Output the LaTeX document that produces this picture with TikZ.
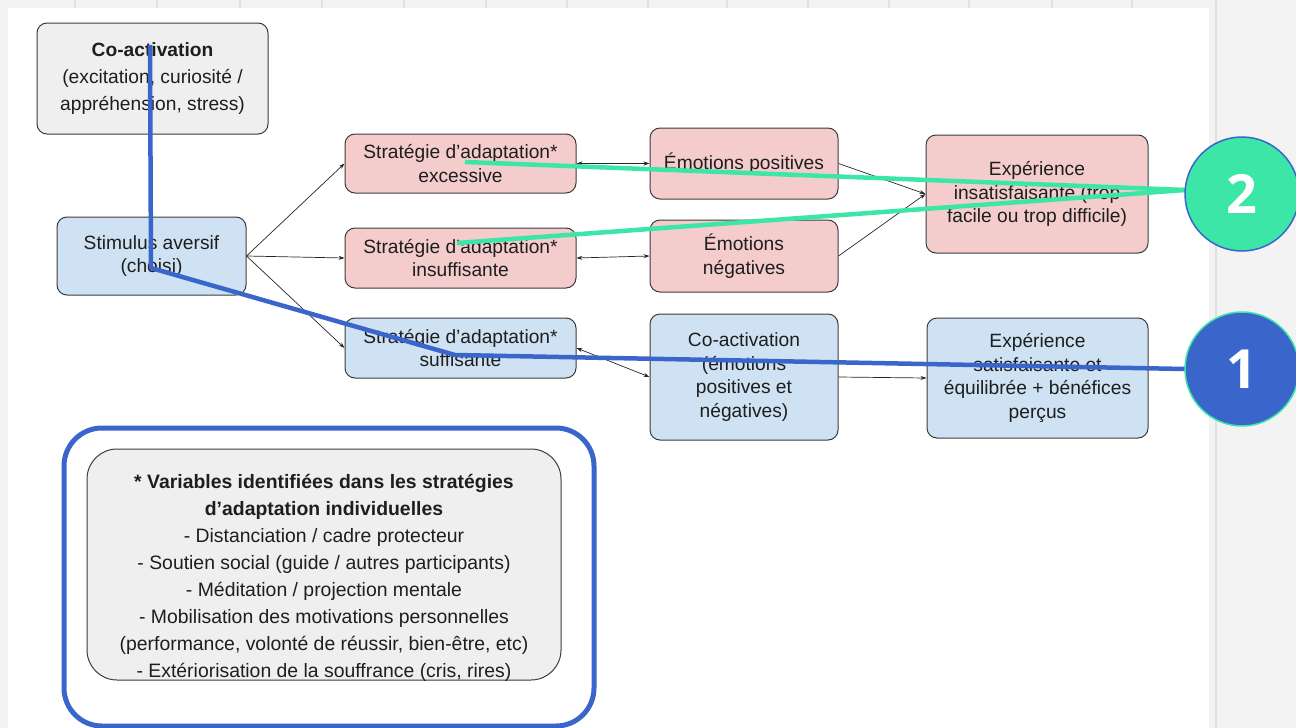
\documentclass[tikz,border=0pt]{standalone}
\usepackage{fontspec}
\setmainfont{Liberation Sans}
\newfontfamily\numfont{Open Sans}
\usetikzlibrary{arrows.meta}
\definecolor{bggray}{HTML}{F3F3F3}
\definecolor{rulegray}{HTML}{E0E0E0}
\definecolor{boxgray}{HTML}{EFEFEF}
\definecolor{boxblue}{HTML}{CFE2F3}
\definecolor{boxpink}{HTML}{F4CCCC}
\definecolor{annblue}{HTML}{3A66CC}
\definecolor{anngreen}{HTML}{3CE6A6}
\definecolor{txt}{HTML}{1E1E1E}
\definecolor{edge}{HTML}{3C3C3C}
\tikzset{
  box/.style={draw=edge, line width=1pt, rounded corners=10pt, align=center, text=txt,
    font=\fontsize{19.2}{23.5}\selectfont, inner sep=0pt},
  gbox/.style={box, fill=boxgray},
  bbox/.style={box, fill=boxblue},
  pbox/.style={box, fill=boxpink},
  conn/.style={draw=black!85, line width=0.7pt, -{Stealth[length=6pt,width=4pt]}},
  dconn/.style={draw=black!85, line width=0.7pt, {Stealth[length=6pt,width=4pt]}-{Stealth[length=6pt,width=4pt]}},
  hl/.style={line width=4.5pt, line join=round},
  badge/.style={circle, minimum size=114pt, inner sep=0pt, line width=1.5pt, text=white,
    font=\numfont\bfseries\fontsize{54}{54}\selectfont}
}
\begin{document}
\begin{tikzpicture}[x=1pt,y=-1pt]
\useasboundingbox (0,0) rectangle (1296,728);
% page background
\fill[bggray] (0,0) rectangle (1296,728);
\fill[white] (8,8) rectangle (1209,728);
\foreach \x in {75,157,240,322,404,486,567,648,727,808,889,969,1052,1132}
  \fill[rulegray] (\x-1,0) rectangle (\x+1,8);
\fill[rulegray] (1215,0) rectangle (1217,728);

% boxes
\node[gbox, minimum width=231pt, minimum height=111pt, font=\fontsize{19.2}{27}\selectfont] (cotop) at (152.5,78.5)
  {\textbf{Co-activation}\\(excitation, curiosité /\\appréhension, stress)};
\node[bbox, minimum width=189pt, minimum height=78pt] (stim) at (151.5,256)
  {Stimulus aversif\\(choisi)};
\node[pbox, minimum width=231pt, minimum height=59pt] (exc) at (460.5,163.5)
  {Stratégie d’adaptation*\\excessive};
\node[pbox, minimum width=231pt, minimum height=60pt] (ins) at (460.5,258)
  {Stratégie d’adaptation*\\insuffisante};
\node[bbox, minimum width=231pt, minimum height=60pt] (suf) at (460.5,348)
  {Stratégie d’adaptation*\\suffisante};
\node[pbox, minimum width=188pt, minimum height=71pt] (pos) at (744,163.5)
  {Émotions positives};
\node[pbox, minimum width=188pt, minimum height=72pt] (neg) at (744,256)
  {Émotions\\négatives};
\node[bbox, minimum width=188pt, minimum height=126pt] (coact) at (744,377)
  {Co-activation\\(émotions\\positives et\\négatives)};
\node[pbox, minimum width=222pt, minimum height=118pt] (insat) at (1037,194)
  {Expérience\\insatisfaisante (trop\\facile ou trop difficile)};
\node[bbox, minimum width=221pt, minimum height=120pt] (sat) at (1037.5,378)
  {Expérience\\satisfaisante et\\équilibrée + bénéfices\\perçus};

% legend
\node[draw=annblue, line width=5pt, rounded corners=38pt, minimum width=530pt, minimum height=298pt] (frame) at (329,577) {};
\node[gbox, minimum width=474pt, minimum height=231pt, rounded corners=30pt] (legend) at (324,564.5) {};
\node[align=center, text=txt, font=\fontsize{19.4}{26.9}\selectfont, inner sep=0pt] (legtext) at (324,578)
  {\textbf{* Variables identifiées dans les stratégies}\\
   \textbf{d’adaptation individuelles}\\
   - Distanciation / cadre protecteur\\
   - Soutien social (guide / autres participants)\\
   - Méditation / projection mentale\\
   - Mobilisation des motivations personnelles\\
   (performance, volonté de réussir, bien-être, etc)\\
   - Extériorisation de la souffrance (cris, rires)};

% connectors
\draw[conn] (stim.east) -- (exc.west);
\draw[conn] (stim.east) -- (ins.west);
\draw[conn] (stim.east) -- (suf.west);
\draw[dconn] (exc.east) -- (pos.west);
\draw[dconn] (ins.east) -- (neg.west);
\draw[dconn] (suf.east) -- (coact.west);
\draw[conn] (pos.east) -- (insat.west);
\draw[conn] (neg.east) -- (insat.west);
\draw[conn] (coact.east) -- (sat.west);

% annotation strokes
\coordinate (g1) at (465,162);
\coordinate (g2) at (457,243);
\coordinate (g2end) at (1185,190);
\coordinate (bl0) at (150,45);
\coordinate (bl1) at (151,268);
\coordinate (bl2) at (455,355);
\coordinate (b1end) at (1185,369);
\draw[hl, anngreen] (g1) -- (g2end);
\draw[hl, anngreen] (g2) -- (g2end);
\draw[hl, annblue] (bl0) -- (bl1) -- (bl2) -- (b1end);

% badges
\node[badge, fill=anngreen, draw=annblue] (b2) at (1242,194) {2};
\node[badge, fill=annblue, draw=anngreen] (b1) at (1242,369) {1};
\end{tikzpicture}
\end{document}
